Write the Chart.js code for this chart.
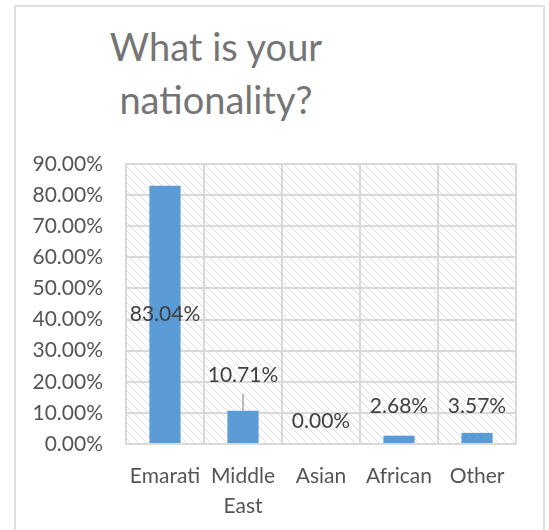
<!DOCTYPE html>
<html><head><meta charset="utf-8">
<script src="https://cdn.jsdelivr.net/npm/chart.js@4.4.1/dist/chart.umd.min.js"></script>
<style>
html,body{margin:0;padding:0;width:549px;height:530px;overflow:hidden;background:#fff;}
#frame{position:absolute;left:14px;top:5px;width:531px;height:600px;border:2px solid #e0e0e0;box-sizing:border-box;}
#title{position:absolute;left:16px;width:400px;top:20px;text-align:center;font-family:Lato,sans-serif;font-size:38px;line-height:53px;color:#757575;}
#wrap{position:absolute;left:0;top:0;width:549px;height:530px;}
</style></head>
<body>
<div id="frame"></div>
<div id="title">What is your<br>nationality?</div>
<div id="wrap"><canvas id="c" width="549" height="530"></canvas></div>
<script>
const categories = ['Emarati', 'Middle East', 'Asian', 'African', 'Other'];
const shares = [0.8304, 0.1071, 0.0, 0.0268, 0.0357];
const yTicks = [0, 0.1, 0.2, 0.3, 0.4, 0.5, 0.6, 0.7, 0.8, 0.9];

const pct = v => (v * 100).toFixed(2) + '%';

const hatchCanvas = document.createElement('canvas');
hatchCanvas.width = 8; hatchCanvas.height = 8;
(function(){
  const p = hatchCanvas.getContext('2d');
  p.strokeStyle = '#dedede'; p.lineWidth = 1;
  p.beginPath();
  p.moveTo(-2,-2); p.lineTo(10,10);
  p.moveTo(-2,6); p.lineTo(2,10);
  p.moveTo(6,-2); p.lineTo(10,2);
  p.stroke();
})();

const hatchPlugin = {
  id: 'hatch',
  beforeDraw(chart) {
    const {ctx, chartArea: a} = chart;
    ctx.save();
    ctx.fillStyle = ctx.createPattern(hatchCanvas, 'repeat');
    ctx.fillRect(a.left, a.top, a.right - a.left, a.bottom - a.top);
    ctx.restore();
  }
};

const valueLabels = {
  id: 'valueLabels',
  afterDatasetsDraw(chart, args, opts) {
    const ctx = chart.ctx;
    const meta = chart.getDatasetMeta(0);
    const data = chart.data.datasets[0].data;
    ctx.save();
    ctx.font = opts.size + 'px Lato';
    ctx.fillStyle = opts.color;
    ctx.textAlign = 'center';
    ctx.textBaseline = 'middle';
    meta.data.forEach((bar, i) => {
      const off = opts.offsets[i];
      const y = off === null ? (bar.y + bar.base) / 2 : bar.y + off;
      if (opts.leaders[i]) {
        ctx.strokeStyle = '#a6a6a6'; ctx.lineWidth = 1.5;
        ctx.beginPath(); ctx.moveTo(bar.x, y + 18); ctx.lineTo(bar.x, bar.y); ctx.stroke();
      }
      ctx.fillText(pct(data[i]), bar.x, y);
    });
    ctx.restore();
  }
};

function build() {
  Chart.defaults.font.family = 'Lato';
  new Chart(document.getElementById('c'), {
    type: 'bar',
    data: {
      labels: categories,
      datasets: [{
        data: shares,
        backgroundColor: '#5B9BD5',
        borderWidth: 0,
        barPercentage: 0.4,
        categoryPercentage: 1.0
      }]
    },
    options: {
      responsive: false,
      animation: false,
      devicePixelRatio: 1,
      layout: {padding: {left: 0, right: 33, top: 164, bottom: 0}},
      plugins: {
        legend: {display: false},
        title: {display: false},
        tooltip: {enabled: false},
        valueLabels: {
          size: 21, color: '#3f3f3f',
          offsets: [null, -35, -22.5, -29.5, -27],
          leaders: [false, true, false, false, false]
        }
      },
      scales: {
        x: {
          grid: {color: '#d9d9d9', lineWidth: 2, drawTicks: false, offset: true},
          border: {color: '#d9d9d9', width: 2},
          ticks: {
            color: '#555555', padding: 17,
            font: {size: 21, lineHeight: 30/21},
            maxRotation: 0, autoSkip: false,
            callback: (v, i) => categories[i].includes(' ') ? categories[i].split(' ') : categories[i]
          },
          afterFit: s => { s.height = 86; }
        },
        y: {
          min: 0, max: 0.9,
          afterBuildTicks: s => { s.ticks = yTicks.map(v => ({value: v})); },
          grid: {color: '#d9d9d9', lineWidth: 2, drawTicks: false},
          border: {color: '#d9d9d9', width: 2},
          ticks: {color: '#555555', padding: 23, font: {size: 21}, callback: v => pct(v)},
          afterFit: s => { s.width = 126; }
        }
      }
    },
    plugins: [hatchPlugin, valueLabels]
  });
}

if (document.fonts && document.fonts.load) {
  Promise.all([document.fonts.load('21px Lato'), document.fonts.load('38px Lato')]).then(build, build);
} else build();
</script>
</body></html>
